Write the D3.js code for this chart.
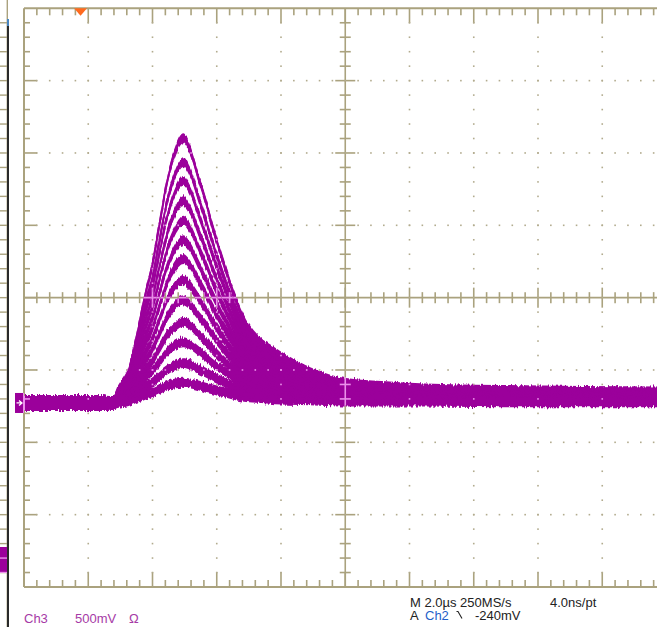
<!DOCTYPE html>
<html>
<head>
<meta charset="utf-8">
<script src="https://cdn.jsdelivr.net/npm/d3@7"></script>
<style>
  html, body { margin: 0; padding: 0; background: #fff; }
  svg { display: block; }
  text { font-family: "Liberation Sans", Arial, sans-serif; font-size: 13px; }
</style>
</head>
<body>
<svg id="scope" width="657" height="627"></svg>
<script>
// ---- Acquisition settings ----
const timePerDiv = 2.0;      // µs / div  (M 2.0µs)
const mvPerDiv = 500;        // Ch3 500 mV / div
const triggerDiv = 0.88;     // trigger position, divisions from the left edge
const groundDiv = 5.456;     // Ch3 ground level, divisions below the top edge
const xDivs = 10, yDivs = 8;

// ---- Ch3 sweeps (mV), sampled at sampleTimes (µs after trigger) ----
const sampleTimes = [-1.76, 0.6, 1.0, 1.15, 1.5, 1.75, 2.0, 2.25, 2.45, 2.7, 2.95, 3.2, 3.4, 3.7, 3.9, 4.1, 4.45, 4.8, 5.15, 5.55, 6.05, 6.85, 7.45, 8.2, 9.95, 13.05, 18.24];
// vertical noise half-band at each sample (mV)
const noiseMv = [52, 52, 46, 40, 36, 34, 34, 34, 34, 34, 34, 34, 34, 34, 34, 34, 34, 34, 34, 34, 34, 34, 34, 34, 34, 34, 34];
const sweep01 = [0,0,0,75,220,460,730,970,1225,1535,1740,1830,1755,1535,1390,1225,970,730,550,430,350,245,185,140,110,90,80];
const sweep02 = [0,0,0,65,200,415,665,880,1115,1400,1580,1665,1600,1400,1265,1115,880,665,500,390,320,225,170,125,100,85,75];
const sweep03 = [0,0,0,60,185,385,615,815,1030,1290,1460,1535,1475,1290,1165,1030,815,615,460,360,295,205,155,115,90,75,70];
const sweep04 = [0,0,0,55,165,350,560,740,935,1170,1325,1395,1340,1170,1060,935,740,560,420,330,265,190,140,105,85,70,65];
const sweep05 = [0,0,0,50,150,315,505,670,845,1060,1195,1260,1210,1060,960,845,670,505,380,295,240,170,125,95,75,65,55];
const sweep06 = [0,0,0,45,135,280,450,595,755,945,1070,1125,1080,945,855,755,595,450,340,265,215,150,115,85,70,55,50];
const sweep07 = [0,0,0,40,120,250,400,525,665,835,945,995,955,835,755,665,525,400,300,235,190,135,100,75,60,50,45];
const sweep08 = [0,0,0,35,100,215,340,450,570,715,810,850,815,715,645,570,450,340,255,200,160,115,85,65,50,45,40];
const sweep09 = [0,0,0,30,85,180,285,375,475,595,675,710,680,595,540,475,375,285,215,165,135,95,70,55,45,35,30];
const sweep10 = [0,0,0,20,65,140,225,295,375,470,530,560,540,470,425,375,295,225,170,130,105,75,55,40,35,30,25];
const sweep11 = [0,0,0,15,50,105,170,225,280,355,400,420,405,355,320,280,225,170,125,100,80,55,40,30,25,20,20];
const sweep12 = [0,0,0,10,35,70,110,145,185,230,260,275,265,230,210,185,145,110,85,65,50,35,25,20,15,15,10];
const sweep13 = [0,0,0,5,15,35,55,75,95,120,135,140,135,120,105,95,75,55,40,35,25,20,15,10,10,5,5];
const sweeps = [sweep01, sweep02, sweep03, sweep04, sweep05, sweep06, sweep07, sweep08, sweep09, sweep10, sweep11, sweep12, sweep13];

// ---- Readout texts ----
const ch3Label = "Ch3", ch3Scale = "500mV", ch3Coupling = "Ω";
const horizLabel = "M 2.0µs 250MS/s", resLabel = "4.0ns/pt";
const trigLabelA = "A", trigSource = "Ch2", trigLevel = "-240mV";

// ---- Colours ----
const traceColor = "#9b009b";
const gridColor = "#aaa27e";
const dotColor = "#b2ab8e";
const overlayColor = "#ea8fea";

const svg = d3.select("#scope");
const defs = svg.append("defs");

// Screen area
const gx = d3.scaleLinear().domain([0, xDivs]).range([24, 666.5]);
const gy = d3.scaleLinear().domain([0, yDivs]).range([8.3, 587]);
// Data scales (time in µs, Ch3 in mV)
const x = d3.scaleLinear()
  .domain([-triggerDiv * timePerDiv, (xDivs - triggerDiv) * timePerDiv])
  .range(gx.range());
const y = d3.scaleLinear()
  .domain([-(yDivs - groundDiv) * mvPerDiv, groundDiv * mvPerDiv])
  .range([gy(yDivs), gy(0)]);

// Clip to the graticule area
defs.append("clipPath").attr("id", "screenClip")
  .append("rect")
  .attr("x", gx(0)).attr("y", gy(0))
  .attr("width", gx(xDivs) - gx(0)).attr("height", gy(yDivs) - gy(0));

// Sample noise: vertical jitter on the trace
const jitter = defs.append("filter").attr("id", "jitter")
  .attr("filterUnits", "userSpaceOnUse")
  .attr("x", 0).attr("y", 0).attr("width", 657).attr("height", 627);
jitter.append("feTurbulence")
  .attr("type", "fractalNoise").attr("baseFrequency", "0.6 0.06")
  .attr("numOctaves", 2).attr("seed", 7).attr("result", "noise");
const ct = jitter.append("feComponentTransfer").attr("in", "noise").attr("result", "noiseY");
ct.append("feFuncR").attr("type", "linear").attr("slope", 0).attr("intercept", 0.5);
ct.append("feFuncA").attr("type", "linear").attr("slope", 0).attr("intercept", 1);
jitter.append("feDisplacementMap")
  .attr("in", "SourceGraphic").attr("in2", "noiseY")
  .attr("scale", 6).attr("xChannelSelector", "R").attr("yChannelSelector", "G");

// Each sweep: a vertical noise band plus a thin core line
const band = d3.area()
  .x((d, i) => x(sampleTimes[i]))
  .y0((d, i) => y(d - noiseMv[i]))
  .y1((d, i) => y(d + noiseMv[i]))
  .curve(d3.curveMonotoneX);
const core = d3.line()
  .x((d, i) => x(sampleTimes[i]))
  .y(d => y(d))
  .curve(d3.curveMonotoneX);

function drawTraces(g, color) {
  const inner = g.append("g").attr("clip-path", "url(#screenClip)")
    .append("g").attr("filter", "url(#jitter)");
  inner.selectAll("path.band")
    .data(sweeps)
    .join("path")
    .attr("class", "band")
    .attr("d", band)
    .attr("fill", color);
  inner.selectAll("path.core")
    .data(sweeps)
    .join("path")
    .attr("class", "core")
    .attr("d", core)
    .attr("fill", "none")
    .attr("stroke", color)
    .attr("stroke-width", 2.2);
}

// Channel markers on the left
function drawMarkers(g, color) {
  g.append("rect").attr("x", 15).attr("y", y(0) - 10).attr("width", 9).attr("height", 20).attr("fill", color);
  g.append("rect").attr("x", 0).attr("y", 547).attr("width", 7).attr("height", 26).attr("fill", color);
}

function drawGraticule(g, lineCol, dotCol) {
  const minorX = d3.range(1, xDivs * 5);   // fifths of a division
  const minorY = d3.range(1, yDivs * 5);
  const lines = [];
  // Borders
  lines.push([gx(0), gy(0), gx(xDivs), gy(0), 2]);
  lines.push([gx(0), gy(0), gx(0), gy(yDivs), 2]);
  lines.push([gx(0), gy(yDivs), gx(xDivs), gy(yDivs), 2]);
  // Centre cross
  lines.push([gx(0), gy(yDivs / 2), gx(xDivs), gy(yDivs / 2), 1.6]);
  lines.push([gx(xDivs / 2), gy(0), gx(xDivs / 2), gy(yDivs), 1.6]);
  minorX.forEach(i => {
    const major = i % 5 === 0, px = gx(i / 5);
    lines.push([px, gy(0), px, gy(0) + (major ? 15 : 7), 1.6]);
    lines.push([px, gy(yDivs), px, gy(yDivs) - (major ? 15 : 7), 1.6]);
    const h = major ? 10 : 5.5;
    lines.push([px, gy(yDivs / 2) - h, px, gy(yDivs / 2) + h, 1.6]);
  });
  minorY.forEach(i => {
    const major = i % 5 === 0, py = gy(i / 5);
    lines.push([gx(0), py, gx(0) + (major ? 13 : 6), py, 1.6]);
    const h = major ? 10 : 5.5;
    lines.push([gx(xDivs / 2) - h, py, gx(xDivs / 2) + h, py, 1.6]);
  });
  g.selectAll("line.grid").data(lines).join("line").attr("class", "grid")
    .attr("x1", d => d[0]).attr("y1", d => d[1]).attr("x2", d => d[2]).attr("y2", d => d[3])
    .attr("stroke", lineCol).attr("stroke-width", d => d[4]);

  // Dotted division lines
  const dots = [];
  d3.range(1, xDivs).filter(k => k !== xDivs / 2).forEach(k =>
    minorY.forEach(i => dots.push([gx(k), gy(i / 5)])));
  d3.range(1, yDivs).filter(k => k !== yDivs / 2).forEach(k =>
    minorX.forEach(i => dots.push([gx(i / 5), gy(k)])));
  g.selectAll("rect.dot").data(dots).join("rect").attr("class", "dot")
    .attr("x", d => d[0] - 0.8).attr("y", d => d[1] - 0.8)
    .attr("width", 1.6).attr("height", 1.6).attr("fill", dotCol);

  // Left level ruler
  const ruler = d3.range(1, 40).map(i => [i, gy(i / 5)]);
  g.selectAll("line.ruler").data(ruler).join("line").attr("class", "ruler")
    .attr("x1", 0).attr("x2", 7).attr("y1", d => d[1]).attr("y2", d => d[1])
    .attr("stroke", lineCol).attr("stroke-width", 1.4);
}

// Left ruler bar
svg.append("line").attr("x1", 7.3).attr("x2", 7.3).attr("y1", 0).attr("y2", 627)
  .attr("stroke", gridColor).attr("stroke-width", 1.4);
svg.append("line").attr("x1", 8).attr("x2", 8).attr("y1", 26).attr("y2", 627)
  .attr("stroke", "#2a2a2a").attr("stroke-width", 2);
svg.append("line").attr("x1", 8).attr("x2", 8).attr("y1", 19).attr("y2", 26)
  .attr("stroke", "#4a86c0").attr("stroke-width", 2);

// Base graticule
drawGraticule(svg.append("g"), gridColor, dotColor);

// Waveforms and markers
const traceLayer = svg.append("g");
drawTraces(traceLayer, traceColor);
drawMarkers(traceLayer, traceColor);

// Graticule shows through the trace in a light tint
const mask = defs.append("mask").attr("id", "traceMask")
  .attr("maskUnits", "userSpaceOnUse")
  .attr("x", 0).attr("y", 0).attr("width", 657).attr("height", 627)
  .style("mask-type", "alpha");
drawTraces(mask, "#fff");
drawMarkers(mask, "#fff");
drawGraticule(svg.append("g").attr("mask", "url(#traceMask)"), overlayColor, overlayColor);

// Ground-level arrow inside the Ch3 marker
svg.append("path")
  .attr("d", `M16.5,${y(0)} L21,${y(0)} M19,${y(0) - 2.5} L22,${y(0)} L19,${y(0) + 2.5}`)
  .attr("stroke", "#fff").attr("stroke-width", 1.3).attr("fill", "none");

// Trigger position marker
const tx = x(0);
svg.append("path")
  .attr("d", `M${tx - 6.5},${gy(0)} L${tx + 6.5},${gy(0)} L${tx},${gy(0) + 7.5} Z`)
  .attr("fill", "#ff6a1e");

// Readouts
const ro = svg.append("g");
ro.append("text").attr("x", 24).attr("y", 623).attr("fill", "#a63aa6").text(ch3Label);
ro.append("text").attr("x", 75).attr("y", 623).attr("fill", "#a63aa6").text(ch3Scale);
ro.append("text").attr("x", 129).attr("y", 623).attr("fill", "#a63aa6").text(ch3Coupling);
ro.append("text").attr("x", 410).attr("y", 606.5).attr("fill", "#222").text(horizLabel);
ro.append("text").attr("x", 550).attr("y", 606.5).attr("fill", "#222").text(resLabel);
ro.append("text").attr("x", 410).attr("y", 620).attr("fill", "#222").text(trigLabelA);
ro.append("text").attr("x", 425).attr("y", 620).attr("fill", "#1f5fc9").text(trigSource);
ro.append("path").attr("d", "M456.5,611.5 L458,611.5 L462,618.5")
  .attr("stroke", "#222").attr("stroke-width", 1.1).attr("fill", "none");
ro.append("text").attr("x", 475).attr("y", 620).attr("fill", "#222").text(trigLevel);
</script>
</body>
</html>
